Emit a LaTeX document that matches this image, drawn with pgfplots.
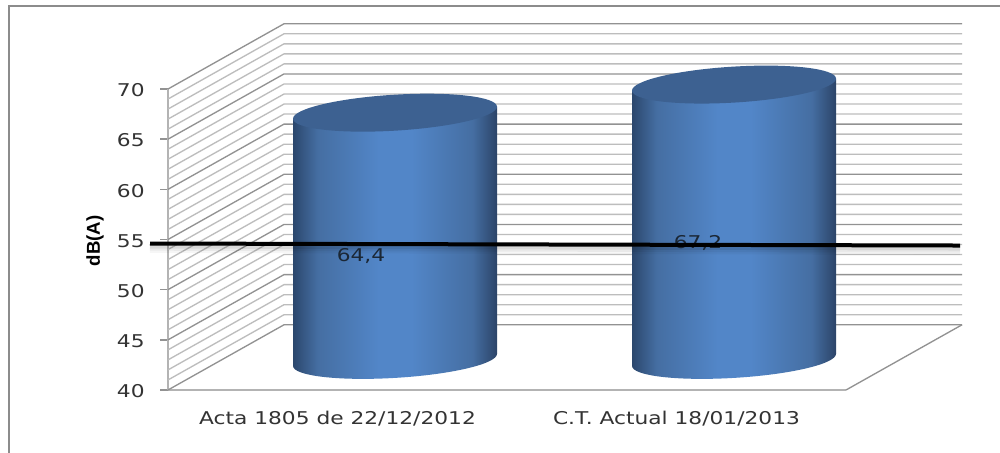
\documentclass[border=0pt]{standalone}
\usepackage{fontspec}
\setmainfont{DejaVu Sans}
\newfontfamily\titlefont{Liberation Sans}
\usepackage{pgfplots}
\pgfplotsset{compat=1.18}
\usetikzlibrary{plotmarks}

\definecolor{wallmaj}{HTML}{929292}
\definecolor{wallmin}{HTML}{BDBDBD}
\definecolor{framegray}{HTML}{8C8C8C}
\definecolor{capblue}{HTML}{3D6191}
\definecolor{cylA}{HTML}{2B476D}
\definecolor{cylB}{HTML}{456EA2}
\definecolor{cylC}{HTML}{5286C8}
\definecolor{cylD}{HTML}{2C4468}
\definecolor{txt}{HTML}{333333}
\definecolor{vallabel}{HTML}{1B2735}

% horizontal gradient of the cylinder wall, the middle 50bp fill the path
\pgfdeclarehorizontalshading{cylbody}{100bp}{
  color(0bp)=(cylA); color(25bp)=(cylA); color(31bp)=(cylB); color(46bp)=(cylC);
  color(54bp)=(cylC); color(69bp)=(cylB); color(75bp)=(cylD); color(100bp)=(cylD)}

% tilted ellipses for the ends of the cylinders
\pgfdeclareplotmark{cylcap}{%
  \pgfpathellipse{\pgfpointorigin}{\pgfqpoint{76.5pt}{4.5pt}}{\pgfqpoint{0pt}{13.5pt}}%
  \pgfusepathqfill}
\pgfdeclareplotmark{cylbase}{%
  \pgfpathellipse{\pgfpointorigin}{\pgfqpoint{76.5pt}{4.5pt}}{\pgfqpoint{0pt}{13.5pt}}%
  \pgfshadepath{cylbody}{0}\pgfusepath{discard}}

\newcommand{\sx}[1]{\scalebox{1.235}[1]{#1}}

\begin{document}
\begin{tikzpicture}
  \useasboundingbox (0,0) rectangle (750pt,339.75pt);
  \fill[white] (0,0) rectangle (750pt,339.75pt);
  \draw[framegray,line width=1.6pt] (6.75pt,0) -- (6.75pt,335.25pt) -- (750pt,335.25pt);

  \begin{axis}[
      at={(126pt,47.25pt)},
      anchor=south west,
      scale only axis,
      width=508.5pt,
      height=225.75pt,
      xmin=168, xmax=846,
      ymin=40, ymax=70,
      clip=false,
      axis x line*=bottom,
      axis y line*=left,
      axis line style={-,wallmaj!70,line width=1.5pt},
      tick align=outside,
      major tick length=6pt,
      xtick={337.5,676.5},
      xticklabels={\sx{Acta 1805 de 22/12/2012},\sx{C.T. Actual 18/01/2013}},
      x tick style={draw=none},
      ytick={40,45,50,55,60,65,70},
      yticklabels={\sx{40},\sx{45},\sx{50},\sx{55},\sx{60},\sx{65},\sx{70}},
      y tick style={wallmaj,line width=1.1pt},
      tick label style={font=\fontsize{13.2}{15}\selectfont,text=txt},
      xticklabel style={yshift=-6pt},
      yticklabel style={xshift=-8pt,yshift=-1pt},
      ylabel={\titlefont\bfseries dB(A)},
      every axis y label/.style={at={(axis description cs:-0.1077,0.495)},rotate=90,anchor=center,font=\fontsize{14}{16}\selectfont},
    ]

    % side and back walls, one line per unit, darker every five
    \pgfplotsforeachungrouped \v in {40,41,...,70}{
      \pgfmathsetmacro{\w}{\v+6.5}
      \pgfmathtruncatemacro{\m}{mod(\v,5)}
      \ifnum\m=0
        \edef\temp{\noexpand\addplot[wallmaj,line width=1pt] coordinates {(168,\v) (284,\w) (962,\w)};}
      \else
        \edef\temp{\noexpand\addplot[wallmin,line width=1pt] coordinates {(168,\v) (284,\w) (962,\w)};}
      \fi
      \temp
    }
    % floor edge
    \addplot[wallmaj,line width=1pt] coordinates {(846,40) (962,46.5)};

    % cylinder walls: value + 3.24 of depth at the top, tilted by the ellipse
    \addplot[only marks,mark=cylbase] coordinates {(395,43.0) (734,43.0)};
    \addplot[shade,shading=cylbody,draw=none] coordinates {(293,42.4) (293,67.04) (497,68.24) (497,43.6)} -- cycle;
    \addplot[shade,shading=cylbody,draw=none] coordinates {(632,42.4) (632,69.84) (836,71.04) (836,43.6)} -- cycle;
    % tops: 64.4 and 67.2 + 3.24
    \addplot[only marks,mark=cylcap,color=capblue] coordinates {(395,67.64) (734,70.44)};

    % limit line shadow, kept faint
    \addplot[black,opacity=0.035,line width=8pt] coordinates {(150,54.2) (960,54.0)};
    \addplot[black,opacity=0.05,line width=5.5pt] coordinates {(150,54.25) (960,54.05)};
    \addplot[black,opacity=0.07,line width=3pt] coordinates {(150,54.3) (960,54.1)};

    % data labels
    \node[font=\fontsize{13.2}{15}\selectfont,text=vallabel] at (axis cs:361,53.4) {\sx{64,4}};
    \node[font=\fontsize{13.2}{15}\selectfont,text=vallabel] at (axis cs:698,54.7) {\sx{67,2}};

    % limit line
    \addplot[black,line width=3pt] coordinates {(150,54.6) (960,54.4)};
  \end{axis}
\end{tikzpicture}
\end{document}
